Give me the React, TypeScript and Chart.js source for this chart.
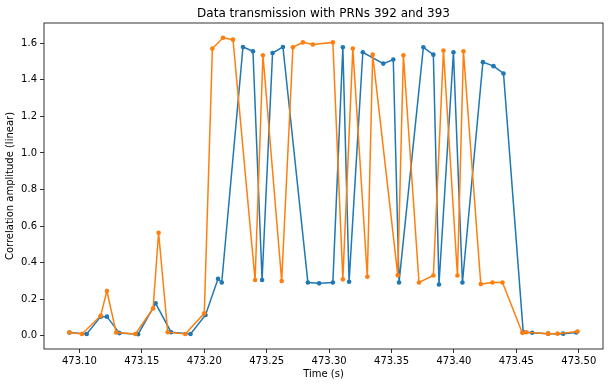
import React, { useEffect, useRef } from "react";
import { Chart, registerables } from "chart.js";

Chart.register(...registerables);

const titleText = "Data transmission with PRNs 392 and 393";
const xLabel = "Time (s)";
const yLabel = "Correlation amplitude (linear)";

const xTicks = [473.1, 473.15, 473.2, 473.25, 473.3, 473.35, 473.4, 473.45, 473.5];
const yTicks = [0.0, 0.2, 0.4, 0.6, 0.8, 1.0, 1.2, 1.4, 1.6];

const prn392Time = [
  473.092, 473.1058, 473.117, 473.122, 473.132, 473.147, 473.161, 473.1734, 473.189,
  473.201, 473.211, 473.214, 473.231, 473.239, 473.2463, 473.2547, 473.263, 473.283,
  473.292, 473.303, 473.311, 473.316, 473.327, 473.3434, 473.3514, 473.356, 473.3755,
  473.3835, 473.388, 473.3996, 473.4068, 473.4232, 473.4317, 473.4397, 473.4555,
  473.4627, 473.4755, 473.4875, 473.498,
];
const prn392Amp = [
  0.018, 0.01, 0.105, 0.105, 0.015, 0.009, 0.178, 0.02, 0.01,
  0.114, 0.312, 0.292, 1.58, 1.556, 0.305, 1.547, 1.58, 0.292,
  0.287, 0.292, 1.578, 0.296, 1.551, 1.489, 1.511, 0.292, 1.578,
  1.538, 0.281, 1.551, 0.292, 1.497, 1.475, 1.435, 0.02,
  0.017, 0.012, 0.012, 0.018,
];

const prn393Time = [
  473.092, 473.102, 473.117, 473.122, 473.1294, 473.1448, 473.159, 473.1634, 473.1707,
  473.1848, 473.2, 473.2065, 473.215, 473.223, 473.2407, 473.247, 473.262, 473.271,
  473.279, 473.287, 473.303, 473.311, 473.319, 473.3306, 473.3349, 473.355, 473.3595,
  473.372, 473.3835, 473.3916, 473.4028, 473.4076, 473.4215, 473.4309, 473.4389,
  473.4547, 473.458, 473.4755, 473.483, 473.499,
];
const prn393Amp = [
  0.018, 0.01, 0.11, 0.245, 0.018, 0.01, 0.15, 0.564, 0.02,
  0.01, 0.123, 1.571, 1.63, 1.62, 0.305, 1.535, 0.3, 1.578,
  1.605, 1.593, 1.605, 0.309, 1.571, 0.323, 1.538, 0.332, 1.535,
  0.292, 0.33, 1.56, 0.33, 1.556, 0.283, 0.292, 0.292,
  0.017, 0.02, 0.012, 0.012, 0.024,
];

const FONT = "'DejaVu Sans', sans-serif";

const framePlugin = {
  id: "framePlugin",
  afterDatasetsDraw(chart: any) {
    const { ctx, chartArea } = chart;
    ctx.save();
    ctx.strokeStyle = "#000";
    ctx.lineWidth = 0.8;
    ctx.strokeRect(chartArea.left, chartArea.top, chartArea.right - chartArea.left, chartArea.bottom - chartArea.top);
    ctx.restore();
  },
  afterDraw(chart: any) {
    const { ctx, chartArea } = chart;
    ctx.save();
    ctx.fillStyle = "#000";
    ctx.font = `12px ${FONT}`;
    ctx.textAlign = "center";
    ctx.textBaseline = "alphabetic";
    ctx.fillText(titleText, (chartArea.left + chartArea.right) / 2, chartArea.top - 6);
    ctx.restore();
  },
};

export default function App() {
  const ref = useRef<HTMLCanvasElement | null>(null);
  useEffect(() => {
    if (!ref.current) return;
    const toPts = (t: number[], a: number[]) => t.map((x, i) => ({ x, y: a[i] }));
    const chart = new Chart(ref.current, {
      type: "line",
      data: {
        datasets: [
          {
            label: "PRN 392",
            data: toPts(prn392Time, prn392Amp),
            borderColor: "#1f77b4",
            backgroundColor: "#1f77b4",
            borderWidth: 1.5,
            pointRadius: 2.3,
            pointBorderWidth: 0,
            tension: 0,
            fill: false,
            order: 1,
          },
          {
            label: "PRN 393",
            data: toPts(prn393Time, prn393Amp),
            borderColor: "#ff7f0e",
            backgroundColor: "#ff7f0e",
            borderWidth: 1.5,
            pointRadius: 2.3,
            pointBorderWidth: 0,
            tension: 0,
            fill: false,
            order: 0,
          },
        ],
      },
      options: {
        animation: false,
        responsive: false,
        maintainAspectRatio: false,
        devicePixelRatio: 1,
        layout: { padding: { left: 0, top: 23, right: 9, bottom: 0 } },
        plugins: {
          legend: { display: false },
          tooltip: { enabled: false },
          title: { display: false },
        },
        scales: {
          x: {
            type: "linear",
            min: 473.0716,
            max: 473.5194,
            afterBuildTicks: (scale: any) => {
              scale.ticks = xTicks.map((v) => ({ value: v }));
            },
            afterFit: (scale: any) => {
              scale.height = 38;
            },
            ticks: {
              color: "#000",
              font: { family: FONT, size: 10 },
              padding: 2,
              maxRotation: 0,
              autoSkip: false,
              callback: (v: any) => Number(v).toFixed(2),
            },
            grid: {
              drawOnChartArea: false,
              drawTicks: true,
              tickLength: 4,
              color: "#000",
              tickColor: "#000",
              lineWidth: 0.8,
            },
            border: { display: false },
            title: {
              display: true,
              text: xLabel,
              color: "#000",
              font: { family: FONT, size: 10 },
              padding: { top: 0, bottom: 7 },
            },
          },
          y: {
            type: "linear",
            min: -0.072,
            max: 1.711,
            afterBuildTicks: (scale: any) => {
              scale.ticks = yTicks.map((v) => ({ value: v }));
            },
            afterFit: (scale: any) => {
              scale.width = 44;
            },
            ticks: {
              color: "#000",
              font: { family: FONT, size: 10 },
              padding: 3,
              autoSkip: false,
              callback: (v: any) => Number(v).toFixed(1),
            },
            grid: {
              drawOnChartArea: false,
              drawTicks: true,
              tickLength: 4,
              color: "#000",
              tickColor: "#000",
              lineWidth: 0.8,
            },
            border: { display: false },
            title: {
              display: true,
              text: yLabel,
              color: "#000",
              font: { family: FONT, size: 10 },
              padding: { top: 4, bottom: 0 },
            },
          },
        },
      },
      plugins: [framePlugin],
    } as any);
    return () => chart.destroy();
  }, []);
  return (
    <div style={{ position: "fixed", left: 0, top: 0, width: 612, height: 387, background: "#fff" }}>
      <canvas ref={ref} width={612} height={387} style={{ width: 612, height: 387, display: "block" }} />
    </div>
  );
}
